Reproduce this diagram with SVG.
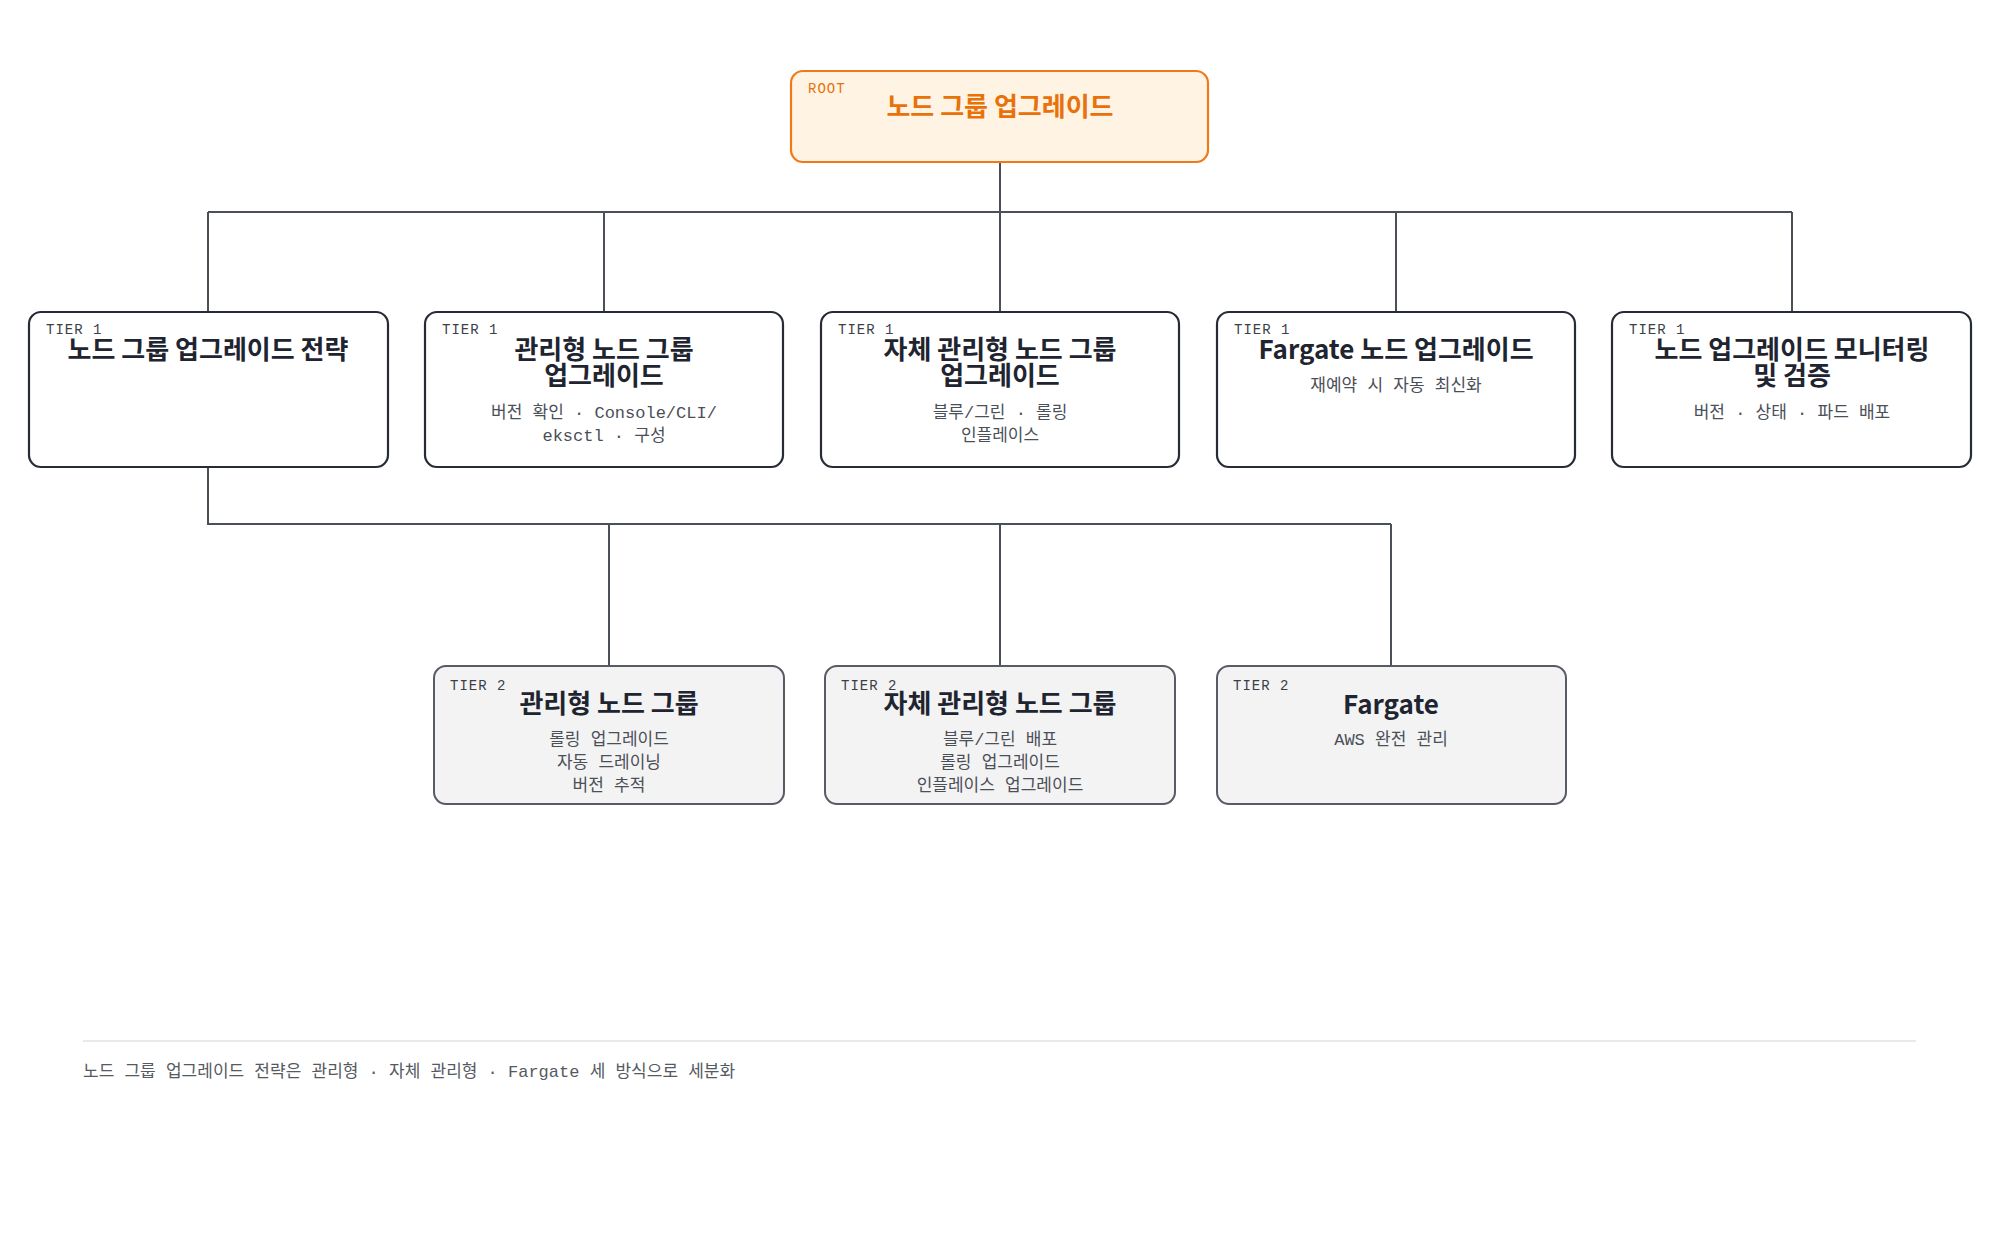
<svg xmlns="http://www.w3.org/2000/svg" width="2000" height="1250" viewBox="0 0 2000 1250">
<style>
.t1{fill:#fff;stroke:#262b35;stroke-width:2.2}
.t2{fill:#f3f3f3;stroke:#565b64;stroke-width:2}
.lbl{font-family:"Liberation Mono","Noto Sans CJK KR",monospace;font-size:14px;fill:#3a3f48;letter-spacing:1px}
.ttl{font-family:"Noto Sans CJK KR",sans-serif;font-size:26px;font-weight:700;fill:#1f2530;text-anchor:middle}
.sub{font-family:"Liberation Mono","Noto Sans CJK KR",monospace;font-size:17px;fill:#4a4f58;text-anchor:middle}
.c{fill:none;stroke:#4a4f58;stroke-width:2}
</style>
<rect width="2000" height="1250" fill="#fff"/>
<g id="connectors">
<path class="c" d="M1000 162V212M208 212H1792M208 212V312M604 212V312M1000 212V312M1396 212V312M1792 212V312"/>
<path class="c" d="M208 467V524H1391M609 524V666M1000 524V666M1391 524V666"/>
</g>
<g id="root">
<rect x="791" y="71" width="417" height="91" rx="12" fill="#fff4e4" stroke="#ee7a1a" stroke-width="2.2"/>
<text x="808" y="93" class="lbl" style="fill:#e8710a">ROOT</text>
<text x="1000" y="116" class="ttl" style="fill:#e8710a">노드 그룹 업그레이드</text>
</g>
<g id="t1a"><rect class="t1" x="29" y="312" width="359" height="155" rx="12"/>
<text x="46" y="334" class="lbl">TIER 1</text><text x="208" y="359" class="ttl">노드 그룹 업그레이드 전략</text></g>
<g id="t1b"><rect class="t1" x="425" y="312" width="358" height="155" rx="12"/>
<text x="442" y="334" class="lbl">TIER 1</text><text x="604" y="359" class="ttl">관리형 노드 그룹</text><text x="604" y="385" class="ttl">업그레이드</text>
<text x="604" y="418" class="sub">버전 확인 · Console/CLI/</text><text x="604" y="441" class="sub">eksctl · 구성</text></g>
<g id="t1c"><rect class="t1" x="821" y="312" width="358" height="155" rx="12"/>
<text x="838" y="334" class="lbl">TIER 1</text><text x="1000" y="359" class="ttl">자체 관리형 노드 그룹</text><text x="1000" y="385" class="ttl">업그레이드</text>
<text x="1000" y="418" class="sub">블루/그린 · 롤링</text><text x="1000" y="441" class="sub">인플레이스</text></g>
<g id="t1d"><rect class="t1" x="1217" y="312" width="358" height="155" rx="12"/>
<text x="1234" y="334" class="lbl">TIER 1</text><text x="1396" y="359" class="ttl">Fargate 노드 업그레이드</text>
<text x="1396" y="391" class="sub">재예약 시 자동 최신화</text></g>
<g id="t1e"><rect class="t1" x="1612" y="312" width="359" height="155" rx="12"/>
<text x="1629" y="334" class="lbl">TIER 1</text><text x="1792" y="359" class="ttl">노드 업그레이드 모니터링</text><text x="1792" y="385" class="ttl">및 검증</text>
<text x="1792" y="418" class="sub">버전 · 상태 · 파드 배포</text></g>
<g id="t2a"><rect class="t2" x="434" y="666" width="350" height="138" rx="12"/>
<text x="450" y="690" class="lbl">TIER 2</text><text x="609" y="713" class="ttl">관리형 노드 그룹</text>
<text x="609" y="745" class="sub">롤링 업그레이드</text><text x="609" y="768" class="sub">자동 드레이닝</text><text x="609" y="791" class="sub">버전 추적</text></g>
<g id="t2b"><rect class="t2" x="825" y="666" width="350" height="138" rx="12"/>
<text x="841" y="690" class="lbl">TIER 2</text><text x="1000" y="713" class="ttl">자체 관리형 노드 그룹</text>
<text x="1000" y="745" class="sub">블루/그린 배포</text><text x="1000" y="768" class="sub">롤링 업그레이드</text><text x="1000" y="791" class="sub">인플레이스 업그레이드</text></g>
<g id="t2c"><rect class="t2" x="1217" y="666" width="349" height="138" rx="12"/>
<text x="1233" y="690" class="lbl">TIER 2</text><text x="1391" y="714" class="ttl">Fargate</text>
<text x="1391" y="745" class="sub">AWS 완전 관리</text></g>
<g id="footer">
<line x1="83" y1="1041" x2="1916" y2="1041" stroke="#e2e2e2" stroke-width="1.5"/>
<text x="83" y="1077" font-family="Liberation Mono,Noto Sans CJK KR,monospace" font-size="17" fill="#555a62">노드 그룹 업그레이드 전략은 관리형 · 자체 관리형 · Fargate 세 방식으로 세분화</text>
</g>
</svg>
